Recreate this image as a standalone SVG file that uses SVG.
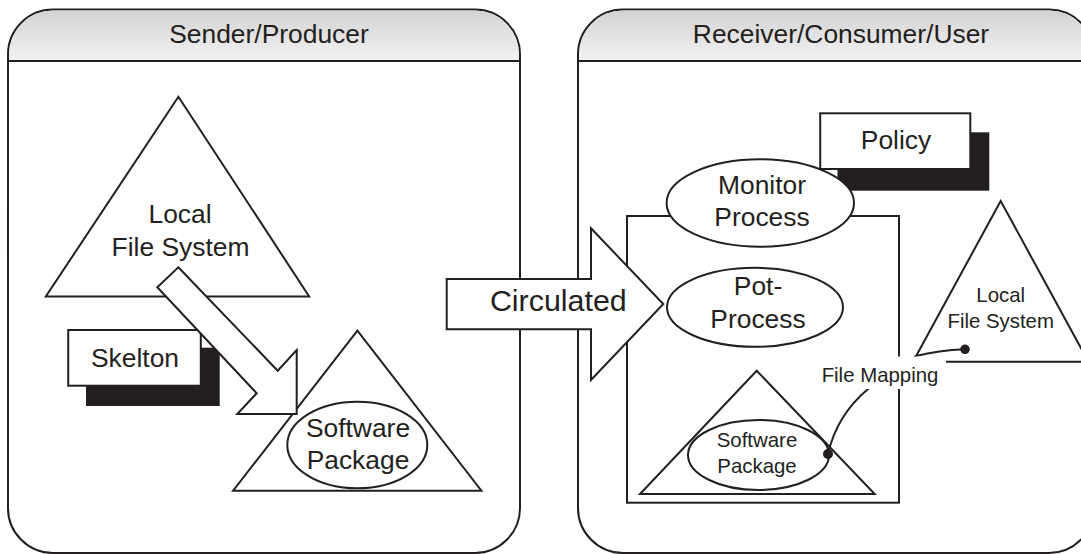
<svg xmlns="http://www.w3.org/2000/svg" width="1081" height="554" viewBox="0 0 1081 554">
  <defs>
    <linearGradient id="hdr" x1="0" y1="0" x2="0" y2="1">
      <stop offset="0" stop-color="#d2d2d2"/>
      <stop offset="1" stop-color="#f3f3f3"/>
    </linearGradient>
    <style>
      .ln { fill: #ffffff; stroke: #231f20; stroke-width: 2; stroke-linejoin: miter; }
      .nf { fill: none; stroke: #231f20; stroke-width: 2; }
      .hd { fill: url(#hdr); stroke: none; }
      .sh { fill: #231f20; stroke: none; }
      .dot { fill: #231f20; }
      text { font-family: "Liberation Sans", Arial, sans-serif; fill: #231f20; text-anchor: middle; }
      .t26 { font-size: 26.4px; }
      .t20 { font-size: 20.4px; }
      .t30 { font-size: 30.4px; }
    </style>
  </defs>
  <rect width="1081" height="554" fill="#ffffff"/>

  <g id="panel-sender">
    <path class="ln" d="M8,54.5 A45,45 0 0 1 53,9.5 L475,9.5 A45,45 0 0 1 520,54.5 L520,508 A45,45 0 0 1 475,553 L53,553 A45,45 0 0 1 8,508 Z"/>
    <path class="hd" d="M9,61 L9,54.5 A44,44 0 0 1 53,10.5 L475,10.5 A44,44 0 0 1 519,54.5 L519,61 Z"/>
    <line class="nf" x1="8" y1="61" x2="520" y2="61"/>
    <text class="t26" x="269" y="43.3">Sender/Producer</text>
  </g>

  <g id="panel-receiver">
    <path class="ln" d="M578,54.5 A45,45 0 0 1 623,9.5 L1049,9.5 A45,45 0 0 1 1094,54.5 L1094,508 A45,45 0 0 1 1049,553 L623,553 A45,45 0 0 1 578,508 Z"/>
    <path class="hd" d="M579,61 L579,54.5 A44,44 0 0 1 623,10.5 L1049,10.5 A44,44 0 0 1 1093,54.5 L1093,61 Z"/>
    <line class="nf" x1="578" y1="61" x2="1094" y2="61"/>
    <text class="t26" x="841" y="43.3">Receiver/Consumer/User</text>
  </g>

  <g id="node-local-fs-sender">
    <polygon class="ln" points="178.4,96.7 45.8,296.5 309.2,296.5"/>
    <text class="t26" x="180" y="222.7">Local</text>
    <text class="t26" x="180.5" y="255.5">File System</text>
  </g>

  <g id="node-software-package-sender">
    <polygon class="ln" points="357.4,330.7 233.1,490.7 481.4,490.7"/>
    <ellipse class="ln" cx="357.3" cy="445" rx="70" ry="43.3"/>
    <text class="t26" x="358" y="436.7">Software</text>
    <text class="t26" x="358" y="469.3">Package</text>
  </g>

  <g id="node-skelton">
    <rect class="sh" x="86" y="347.7" width="133.7" height="58.3"/>
    <rect class="ln" x="68.2" y="330" width="132.6" height="55.7"/>
    <text class="t26" x="135" y="366.7">Skelton</text>
  </g>

  <g id="node-process-box">
    <rect class="nf" x="627" y="216" width="272" height="286.7"/>
  </g>

  <g id="node-policy">
    <rect class="sh" x="837.5" y="132.3" width="151.8" height="58.4"/>
    <rect class="ln" x="820.2" y="113.3" width="150.1" height="55.7"/>
    <text class="t26" x="896" y="149">Policy</text>
  </g>

  <g id="node-monitor-process">
    <ellipse class="ln" cx="760.3" cy="203" rx="93.7" ry="43.7"/>
    <text class="t26" x="762" y="194.3">Monitor</text>
    <text class="t26" x="762" y="225.7">Process</text>
  </g>

  <g id="node-pot-process">
    <ellipse class="ln" cx="755" cy="307.3" rx="88" ry="39.5"/>
    <text class="t26" x="758" y="295">Pot-</text>
    <text class="t26" x="758" y="328.3">Process</text>
  </g>

  <g id="node-software-package-receiver">
    <polygon class="ln" points="756.7,370.7 640,494 874.7,494"/>
    <ellipse class="ln" cx="758.5" cy="455" rx="70.5" ry="35"/>
    <text class="t20" x="757" y="446.7">Software</text>
    <text class="t20" x="757" y="473.3">Package</text>
  </g>

  <g id="node-local-fs-receiver">
    <polygon class="ln" points="1000.7,201 913,361.7 1088.4,361.7"/>
    <text class="t20" x="1000.7" y="301.7">Local</text>
    <text class="t20" x="1000.7" y="328.3">File System</text>
  </g>

  <g id="connectors">
    <polygon id="arrow-to-package" class="ln" points="178.3,267.3 277.7,370.7 296.7,350 296.7,414 237.3,414 256.7,393.3 157.3,287.3"/>
    <g id="arrow-circulated">
      <polygon class="ln" points="446.7,279 591,279 591,228.3 663.3,304 591,380 591,329.3 446.7,329.3"/>
      <text class="t30" x="558.3" y="310.7">Circulated</text>
    </g>
    <g id="file-mapping">
      <path class="nf" d="M828,454 C833,432 843,410 868,389 L916,356 C932,352 948,350 965,349.3"/>
      <circle class="dot" cx="828" cy="454" r="5"/>
      <circle class="dot" cx="965" cy="349.3" r="4.8"/>
      <rect x="818" y="356.5" width="128" height="32.5" fill="#ffffff"/>
      <text class="t20" x="880" y="381.5">File Mapping</text>
    </g>
  </g>
</svg>
